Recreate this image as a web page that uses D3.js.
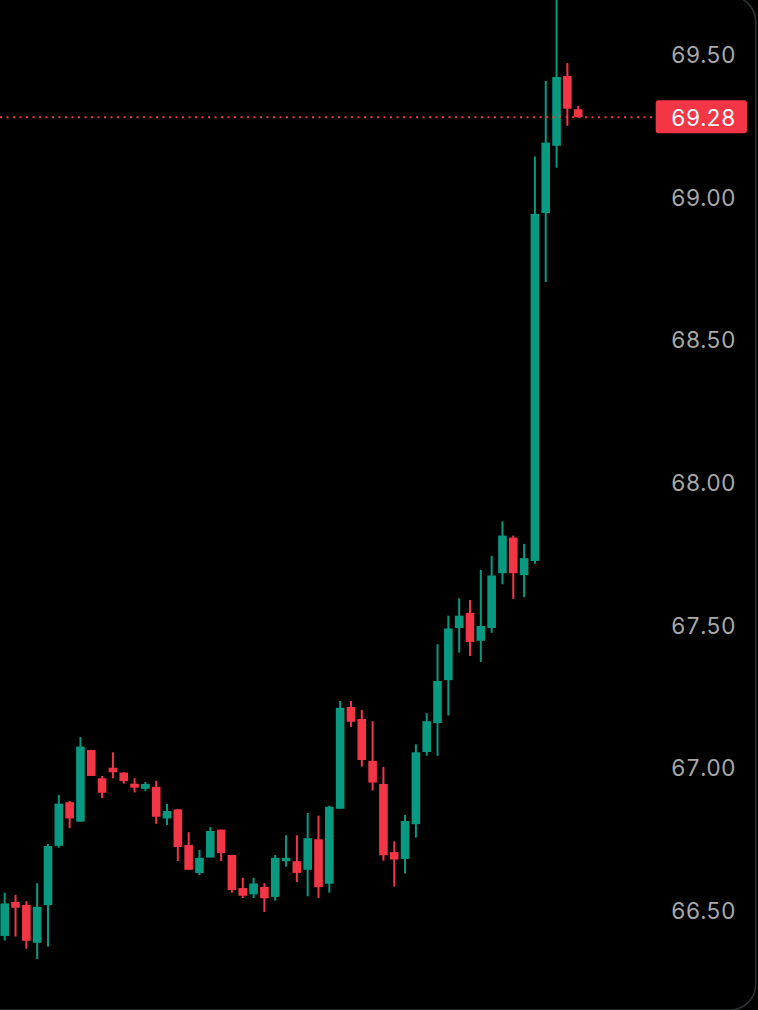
<!DOCTYPE html>
<html>
<head>
<meta charset="utf-8">
<script src="https://cdn.jsdelivr.net/npm/d3@7.9.0/dist/d3.min.js"></script>
<style>
  html, body { margin: 0; padding: 0; background: #000; }
  svg { display: block; }
  text { font-family: Inter, "Noto Sans", sans-serif; font-variant-numeric: tabular-nums; }
</style>
</head>
<body>
<svg id="chart" width="758" height="1010"></svg>
<script>
const opens = [
  66.409, 66.528, 66.518, 66.385, 66.517, 66.725, 66.878, 66.810, 67.061, 66.962,
  66.999, 66.982, 66.943, 66.925, 66.932, 66.821, 66.853, 66.728, 66.630, 66.684,
  66.782, 66.693, 66.577, 66.555, 66.581, 66.546, 66.671, 66.671, 66.641, 66.748,
  66.592, 66.855, 67.212, 67.170, 67.023, 66.942, 66.703, 66.679, 66.801, 67.054,
  67.156, 67.306, 67.489, 67.542, 67.444, 67.489, 67.681, 67.806, 67.674, 67.724,
  68.944, 69.180, 69.425, 69.308
];
const closes = [
  66.523, 66.508, 66.392, 66.511, 66.724, 66.873, 66.821, 67.073, 66.970, 66.911,
  66.983, 66.952, 66.929, 66.942, 66.827, 66.847, 66.721, 66.641, 66.683, 66.777,
  66.700, 66.570, 66.550, 66.593, 66.541, 66.683, 66.683, 66.630, 66.752, 66.580,
  66.862, 67.209, 67.160, 67.026, 66.947, 66.692, 66.677, 66.812, 67.053, 67.162,
  67.303, 67.487, 67.532, 67.440, 67.496, 67.673, 67.813, 67.681, 67.734, 68.941,
  69.191, 69.421, 69.310, 69.280
];
const highs = [
  66.561, 66.553, 66.531, 66.594, 66.731, 66.904, 66.882, 67.106, 67.061, 66.970,
  67.053, 66.983, 66.962, 66.949, 66.953, 66.872, 66.853, 66.773, 66.711, 66.791,
  66.782, 66.693, 66.613, 66.613, 66.594, 66.693, 66.762, 66.762, 66.840, 66.831,
  66.866, 67.233, 67.233, 67.202, 67.162, 67.002, 66.741, 66.834, 67.081, 67.190,
  67.432, 67.532, 67.593, 67.587, 67.693, 67.742, 67.863, 67.813, 67.784, 69.142,
  69.407, 69.712, 69.470, 69.320
];
const lows = [
  66.393, 66.407, 66.364, 66.328, 66.372, 66.718, 66.787, 66.810, 66.970, 66.892,
  66.962, 66.943, 66.912, 66.917, 66.802, 66.798, 66.672, 66.641, 66.623, 66.684,
  66.672, 66.561, 66.542, 66.542, 66.493, 66.533, 66.652, 66.598, 66.548, 66.542,
  66.561, 66.855, 67.142, 67.003, 66.919, 66.673, 66.582, 66.628, 66.754, 67.041,
  67.041, 67.182, 67.403, 67.391, 67.370, 67.472, 67.642, 67.591, 67.597, 67.714,
  68.702, 69.103, 69.250, 69.280
];
const priceTicks = [66.5, 67, 67.5, 68, 68.5, 69, 69.5];
const lastPrice = 69.28;

const upColor = '#089981';
const downColor = '#f23645';

const svg = d3.select('#chart');
svg.append('rect').attr('width', 758).attr('height', 1010).attr('fill', '#000');

const y = d3.scaleLinear().domain([66.5, 69.5]).range([910, 54.5]);
const x = d3.scaleLinear().domain([0, 53]).range([4.7, 578.2]);

const candles = d3.range(opens.length).map((i) => ({
  i,
  open: opens[i],
  close: closes[i],
  high: highs[i],
  low: lows[i]
}));

const colorOf = (d) => (d.close >= d.open ? upColor : downColor);
const bodyWidth = 8.6;

const plot = svg.append('g');

plot.selectAll('line.wick')
  .data(candles)
  .enter()
  .append('line')
  .attr('class', 'wick')
  .attr('x1', (d) => x(d.i))
  .attr('x2', (d) => x(d.i))
  .attr('y1', (d) => y(d.high))
  .attr('y2', (d) => y(d.low))
  .attr('stroke', colorOf)
  .attr('stroke-width', 2);

plot.selectAll('rect.body')
  .data(candles)
  .enter()
  .append('rect')
  .attr('class', 'body')
  .attr('x', (d) => x(d.i) - bodyWidth / 2)
  .attr('width', bodyWidth)
  .attr('y', (d) => y(Math.max(d.open, d.close)))
  .attr('height', (d) => Math.abs(y(d.open) - y(d.close)))
  .attr('fill', colorOf);

// last price line
svg.append('line')
  .attr('x1', 0)
  .attr('x2', 653)
  .attr('y1', y(lastPrice))
  .attr('y2', y(lastPrice))
  .attr('stroke', downColor)
  .attr('stroke-width', 2)
  .attr('stroke-dasharray', '2 4.5');

// price axis
const axis = d3.axisRight(y)
  .tickValues(priceTicks)
  .tickSize(0)
  .tickFormat(d3.format('.2f'));

const axisG = svg.append('g')
  .attr('transform', 'translate(735.5,1)')
  .call(axis);
axisG.select('.domain').remove();
axisG.selectAll('text')
  .attr('x', 0)
  .attr('text-anchor', 'end')
  .attr('fill', '#a9a9a9')
  .style('font-size', '22.5px');

// last price tag
svg.append('rect')
  .attr('x', 655.7)
  .attr('y', y(lastPrice) - 17)
  .attr('width', 91.3)
  .attr('height', 33)
  .attr('rx', 3)
  .attr('fill', downColor);
svg.append('text')
  .attr('x', 735.5)
  .attr('y', y(lastPrice) + 1)
  .attr('dy', '0.36em')
  .attr('text-anchor', 'end')
  .attr('fill', '#fff')
  .style('font-size', '22.5px')
  .text(d3.format('.2f')(lastPrice));

// screen frame
svg.append('rect')
  .attr('x', -40)
  .attr('y', -4)
  .attr('width', 795.8)
  .attr('height', 1014)
  .attr('rx', 26)
  .attr('fill', 'none')
  .attr('stroke', '#2b3033')
  .attr('stroke-width', 1.6);
</script>
</body>
</html>
